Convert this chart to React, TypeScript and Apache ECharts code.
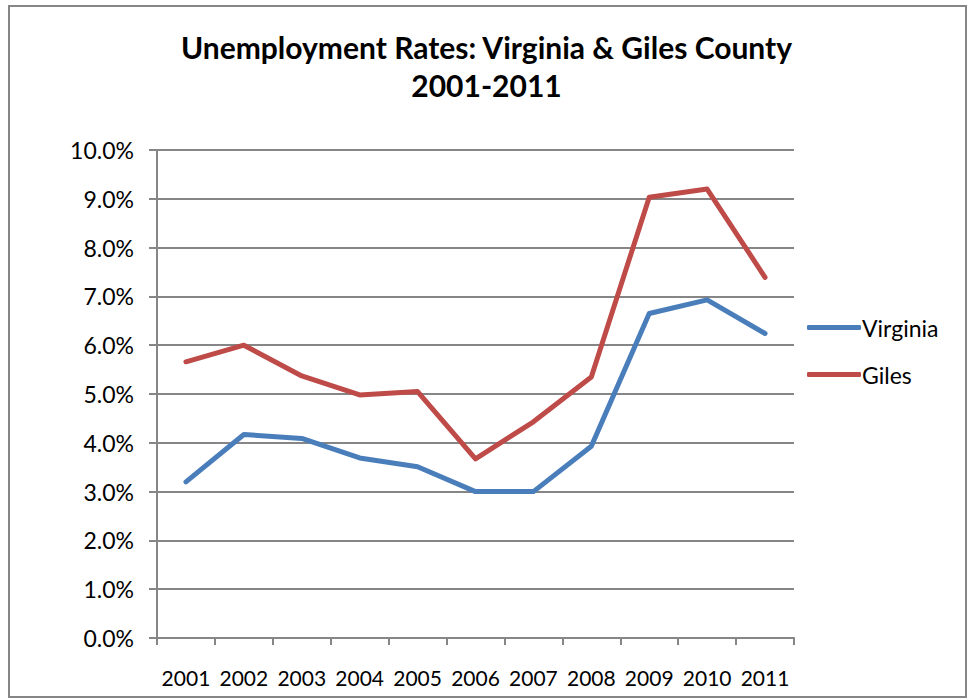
import React, { useEffect, useRef } from "react";
import * as echarts from "echarts";

const years = ["2001", "2002", "2003", "2004", "2005", "2006", "2007", "2008", "2009", "2010", "2011"];
const virginia = [3.2, 4.17, 4.09, 3.69, 3.51, 3.0, 3.0, 3.93, 6.65, 6.93, 6.24];
const giles = [5.66, 6.0, 5.37, 4.98, 5.05, 3.67, 4.43, 5.35, 9.03, 9.2, 7.39];
const titleLines = ["Unemployment Rates: Virginia & Giles County", "2001-2011"];

const FONT = "Lato, 'Open Sans', sans-serif";
const GRAY = "#868686";
const BLUE = "#4A7EBB";
const RED = "#BE4B48";

export default function App() {
  const ref = useRef<HTMLDivElement>(null);
  useEffect(() => {
    document.body.style.margin = "0";
    const chart = echarts.init(ref.current!, null, { renderer: "svg" });
    chart.setOption({
      animation: false,
      backgroundColor: "#fff",
      title: {
        text: titleLines.join("\n"),
        left: "center",
        top: 23,
        textStyle: { fontFamily: FONT, fontWeight: "bold", fontSize: 30, color: "#000", lineHeight: 38 },
      },
      graphic: [
        {
          type: "rect",
          shape: { x: 9, y: 6, width: 957, height: 691 },
          style: { fill: "none", stroke: GRAY, lineWidth: 2 },
        },
      ],
      legend: {
        orient: "vertical",
        left: 802,
        top: 311,
        itemWidth: 54,
        itemHeight: 5,
        itemGap: 24,
        icon: "roundRect",
        textStyle: { fontFamily: FONT, fontSize: 23, color: "#000", padding: [0, 0, 0, -4] },
        data: ["Virginia", "Giles"],
      },
      grid: { left: 157, right: 179, top: 150, bottom: 60, containLabel: false },
      xAxis: {
        type: "category",
        data: years,
        boundaryGap: true,
        axisLine: { lineStyle: { color: GRAY, width: 2 } },
        axisTick: { show: true, length: 7, interval: 0, alignWithLabel: false, lineStyle: { color: GRAY, width: 2 } },
        axisLabel: { interval: 0, fontFamily: FONT, fontSize: 21, color: "#000", margin: 29 },
      },
      yAxis: {
        type: "value",
        min: 0,
        max: 10,
        interval: 1,
        axisLine: { show: true, lineStyle: { color: GRAY, width: 2 } },
        axisTick: { show: true, length: 8, lineStyle: { color: GRAY, width: 2 } },
        splitLine: { show: true, lineStyle: { color: GRAY, width: 2 } },
        axisLabel: {
          fontFamily: FONT,
          fontSize: 23,
          color: "#000",
          margin: 23,
          formatter: (v: number) => v.toFixed(1) + "%",
        },
      },
      series: [
        {
          name: "Virginia",
          type: "line",
          data: virginia,
          symbol: "none",
          lineStyle: { color: BLUE, width: 5, cap: "round", join: "round" },
          itemStyle: { color: BLUE },
        },
        {
          name: "Giles",
          type: "line",
          data: giles,
          symbol: "none",
          lineStyle: { color: RED, width: 5, cap: "round", join: "round" },
          itemStyle: { color: RED },
        },
      ],
    });
    return () => chart.dispose();
  }, []);
  return <div ref={ref} style={{ width: 973, height: 698 }} />;
}
